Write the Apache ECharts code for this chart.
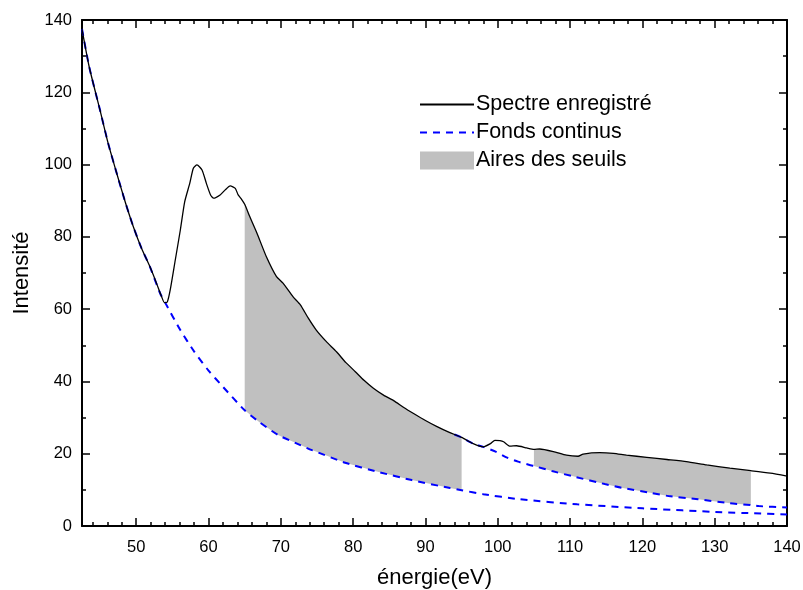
<!DOCTYPE html>
<html>
<head>
<meta charset="utf-8">
<script src="https://cdn.jsdelivr.net/npm/echarts@6/dist/echarts.min.js"></script>
<style>
html,body{margin:0;padding:0;background:#fff;}
#chart{width:803px;height:590px;}
</style>
</head>
<body>
<div id="chart"></div>
<script>
// ---- Data ----
const specE = [42.5,43.5,45.0,46.1,47.3,48.5,49.6,50.7,51.9,52.8,53.5,53.9,54.3,54.7,55.4,56.1,56.7,57.4,57.9,58.4,59.1,59.7,60.3,60.7,61.6,62.3,63.0,63.7,64.1,64.5,65.0,65.7,66.7,68.0,69.4,70.3,71.7,72.7,73.8,74.9,76.3,77.7,79.0,80.3,81.5,82.8,84.2,85.6,87.0,88.3,90.0,91.6,93.3,95.0,96.6,98.0,99.0,99.6,100.3,100.8,101.7,102.6,104.0,105.0,105.8,107.7,109.5,111.1,111.8,114.1,116.0,117.8,120.6,123.4,126.1,128.9,132.1,135.0,137.7,140.0];
const specI = [137.5,127,115,106,97.6,89.5,82.8,77,71.7,67.2,63.5,61.8,62,65.3,73.6,81.9,89.7,94.8,99.0,99.9,98.5,94.8,91.5,90.7,91.6,93.0,94.1,93.4,91.6,90.6,89.0,85.6,81.0,74.5,69.0,67.2,63.4,61.2,57.5,54.2,51.0,48.2,45.2,42.7,40.3,38.1,36.2,34.7,32.8,31.2,29.2,27.5,25.9,24.5,22.8,21.9,22.8,23.7,23.6,23.3,22.1,22.2,21.6,21.2,21.3,20.6,19.6,19.3,19.9,20.3,20.1,19.6,19.0,18.4,17.8,16.9,16.0,15.3,14.6,13.8];

const fond1E = [42.5,43.5,45.0,46.1,47.3,48.5,49.6,50.7,51.9,53.3,54.0,56.1,58.0,60.0,62.0,65.0,67.0,69.6,72.0,74.3,78.9,83.4,88.1,93.4,95.0,98.0,103.0,111.0,120.0,131.0,135.0,140.0];
const fond1I = [137.5,127,115,106,97.6,89.5,82.8,77,71.7,64.4,61.8,54.2,48.3,43.0,38.5,32.0,28.8,25.2,23.0,21.0,17.5,15.0,12.7,10.5,9.9,8.8,7.4,6.0,4.9,3.8,3.55,3.2];

const fond2E = [94.0,95.0,96.6,98.0,99.7,101.2,102.8,104.4,105.0,107.5,110.7,114.8,117.1,121.3,123.6,127.7,132.1,135.0,136.1,140.0];
const fond2I = [25.3,24.5,22.8,21.9,20.6,19.0,17.8,16.9,16.6,15.2,13.6,11.6,10.6,9.1,8.3,7.4,6.3,5.8,5.5,5.1];

const areaRanges = [[65, 95], [105, 135]];

const xMajor = [50,60,70,80,90,100,110,120,130,140];
const xMinor = [44,46,48,52,54,56,58,62,64,66,68,72,74,76,78,82,84,86,88,92,94,96,98,102,104,106,108,112,114,116,118,122,124,126,128,132,134,136,138];

// ---- Chart ----
const FONT = "'Liberation Sans', Arial, sans-serif";
const zip = (a, b) => a.map((v, i) => [v, b[i]]);
const bgSets = [[fond1E, fond1I], [fond2E, fond2I]];

function renderArea(params, api) {
  const lo = api.value(0), hi = api.value(1);
  const [bE, bI] = bgSets[params.dataIndex];
  const pts = [];
  for (let i = 0; i < specE.length; i++) {
    if (specE[i] >= lo && specE[i] <= hi) pts.push(api.coord([specE[i], specI[i]]));
  }
  for (let i = bE.length - 1; i >= 0; i--) {
    if (bE[i] >= lo && bE[i] <= hi) pts.push(api.coord([bE[i], bI[i]]));
  }
  return { type: 'polygon', shape: { points: pts }, style: { fill: '#c0c0c0' } };
}

const axisLineStyle = { show: true, lineStyle: { color: '#000', width: 2 } };
function xAx(pos, vals, len, labels, line) {
  return {
    type: 'value', position: pos, min: 42.5, max: 140,
    axisLine: line ? axisLineStyle : { show: false },
    axisTick: { show: true, inside: true, length: len, customValues: vals, lineStyle: { color: '#000', width: 1.5 } },
    axisLabel: labels ? { show: true, customValues: xMajor, margin: 13, fontSize: 16.5, color: '#000', fontFamily: FONT } : { show: false },
    splitLine: { show: false }
  };
}
function yAx(pos, labels) {
  return {
    type: 'value', position: pos, min: 0, max: 140, interval: 20,
    axisLine: axisLineStyle,
    axisTick: { show: true, inside: true, length: 8, lineStyle: { color: '#000', width: 1.5 } },
    minorTick: { show: true, splitNumber: 2, length: 4, lineStyle: { color: '#000', width: 1.5 } },
    axisLabel: labels ? { show: true, margin: 10, fontSize: 16.5, color: '#000', fontFamily: FONT } : { show: false },
    splitLine: { show: false }
  };
}

const xAxes = [xAx('bottom', xMajor, 8, true, true), xAx('bottom', xMinor, 4, false, false),
               xAx('top', xMajor, 8, false, true), xAx('top', xMinor, 4, false, false)];
xAxes[0].name = 'énergie(eV)';
xAxes[0].nameLocation = 'middle';
xAxes[0].nameGap = 41;
xAxes[0].nameTextStyle = { fontSize: 22, color: '#000', fontFamily: FONT };

const yAxes = [yAx('left', true), yAx('right', false)];
yAxes[0].name = 'Intensité';
yAxes[0].nameLocation = 'middle';
yAxes[0].nameGap = 49;
yAxes[0].nameTextStyle = { fontSize: 22, color: '#000', fontFamily: FONT };

const noSym = { opacity: 0 };
const chart = echarts.init(document.getElementById('chart'), null, { renderer: 'canvas' });
chart.setOption({
  animation: false,
  backgroundColor: '#fff',
  grid: { left: 82, right: 16, top: 20, bottom: 64, containLabel: false, outerBoundsMode: 'none' },
  legend: {
    orient: 'vertical', left: 419, top: 93.5, padding: 0, itemWidth: 54, itemHeight: 18, itemGap: 6,
    textStyle: { fontSize: 21.5, color: '#000', fontFamily: FONT, padding: [0, 0, 0, -3] },
    data: [
      { name: 'Spectre enregistré', itemStyle: noSym },
      { name: 'Fonds continus', itemStyle: noSym },
      { name: 'Aires des seuils', icon: 'rect' }
    ]
  },
  xAxis: xAxes,
  yAxis: yAxes,
  series: [
    {
      name: 'Aires des seuils', type: 'custom', xAxisIndex: 0, yAxisIndex: 0, z: 1,
      renderItem: renderArea, itemStyle: { color: '#c0c0c0' },
      encode: { x: [0, 1], y: 2 },
      data: areaRanges.map(r => [r[0], r[1], 0])
    },
    {
      name: 'Fonds continus', type: 'line', symbol: 'none', z: 3, clip: true, smooth: 0.2,
      lineStyle: { color: '#0000ff', width: 2, type: [7, 6] }, itemStyle: { color: '#0000ff' },
      data: zip(fond1E, fond1I)
    },
    {
      name: 'Fonds continus', type: 'line', symbol: 'none', z: 3, clip: true, smooth: 0.2,
      lineStyle: { color: '#0000ff', width: 2, type: [7, 6] }, itemStyle: { color: '#0000ff' },
      data: zip(fond2E, fond2I)
    },
    {
      name: 'Spectre enregistré', type: 'line', symbol: 'none', z: 4, clip: true, smooth: 0.2,
      lineStyle: { color: '#000', width: 1.3 }, itemStyle: { color: '#000' },
      data: zip(specE, specI)
    }
  ]
});
</script>
</body>
</html>
